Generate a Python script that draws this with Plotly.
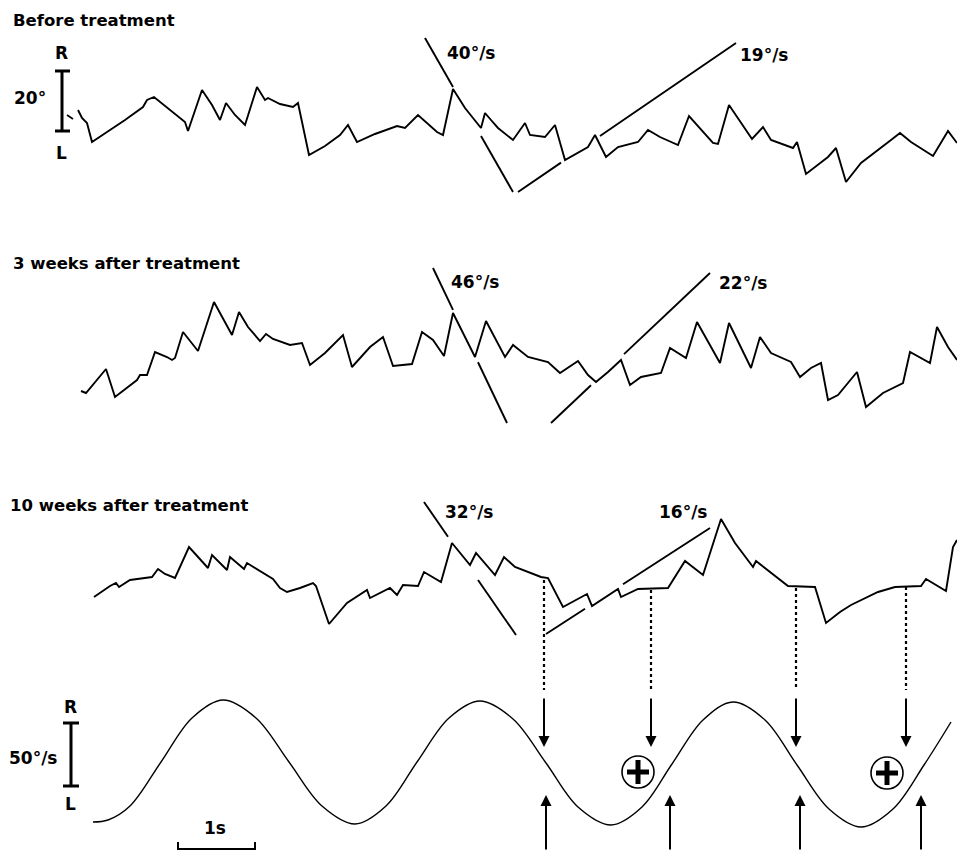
import plotly.graph_objects as go

# ---------------- data (x = time axis, y = trace position) ----------------
before_x = [78, 82, 87, 92, 110, 125, 143, 147, 154, 170, 185, 188, 202, 212, 220, 226, 235, 245, 257, 265, 268, 280,
            293, 298, 309, 325, 340, 348, 357, 375, 397, 405, 418, 437, 443, 453, 465, 481, 485, 491, 498, 513, 525,
            530, 545, 555, 565, 588, 595, 606, 618, 638, 648, 660, 678, 689, 713, 718, 729, 752, 763, 771, 793, 797,
            806, 828, 836, 846, 861, 891, 900, 911, 933, 948, 957]
before_y = [110, 118, 123, 142, 130, 120, 107, 100, 97, 110, 122, 131, 90, 105, 120, 103, 115, 125, 87, 100, 98, 104,
            107, 103, 155, 146, 135, 125, 142, 134, 126, 128, 115, 132, 135, 89, 108, 128, 113, 120, 128, 140, 123,
            135, 137, 125, 160, 147, 135, 157, 147, 142, 130, 137, 145, 116, 143, 144, 105, 139, 127, 140, 148, 142,
            174, 157, 148, 182, 163, 140, 133, 142, 156, 131, 143]

week3_x = [81, 86, 106, 115, 137, 140, 147, 155, 167, 172, 175, 183, 198, 214, 232, 239, 248, 260, 266, 273, 290, 302,
           310, 325, 343, 352, 370, 383, 392, 393, 412, 422, 433, 444, 453, 475, 486, 505, 513, 528, 548, 560, 578,
           588, 596, 608, 621, 630, 641, 661, 670, 686, 697, 720, 729, 751, 760, 771, 791, 800, 811, 821, 828, 838,
           857, 866, 883, 903, 910, 930, 937, 948, 957]
week3_y = [391, 393, 369, 397, 380, 375, 375, 352, 357, 360, 358, 332, 351, 302, 335, 312, 327, 341, 334, 339, 345, 343,
           365, 353, 335, 367, 347, 337, 363, 366, 364, 332, 340, 356, 313, 357, 321, 357, 345, 357, 362, 373, 361,
           375, 382, 372, 360, 385, 377, 373, 348, 358, 322, 363, 323, 368, 337, 353, 362, 377, 368, 363, 400, 395,
           372, 407, 393, 383, 352, 363, 327, 347, 360]

week10_x = [94, 110, 116, 119, 130, 152, 158, 165, 175, 180, 189, 208, 212, 227, 230, 244, 247, 273, 280, 287, 300, 313,
            316, 329, 347, 367, 370, 390, 397, 403, 418, 424, 441, 452, 470, 476, 495, 504, 515, 541, 548, 563, 585,
            587, 592, 618, 621, 638, 668, 685, 703, 721, 735, 753, 756, 788, 815, 826, 840, 851, 878, 895, 921, 926,
            946, 953, 957]
week10_y = [597, 586, 583, 587, 580, 577, 569, 574, 578, 567, 547, 568, 555, 570, 557, 569, 563, 579, 588, 592, 588, 583,
            586, 624, 603, 590, 598, 588, 595, 585, 586, 572, 582, 543, 565, 553, 575, 557, 567, 577, 578, 607, 595,
            594, 606, 589, 597, 589, 588, 561, 575, 519, 543, 567, 561, 586, 587, 623, 612, 605, 592, 587, 586, 579,
            591, 547, 540]

stim_x = [93, 108, 130, 161, 192, 223, 256, 289, 322, 355, 386, 417, 449, 480, 513, 546, 578, 611, 642, 672, 703, 733,
          765, 797, 829, 861, 893, 924, 951]
stim_y = [822, 820, 806, 762, 718, 700, 718, 762, 806, 824, 806, 762, 718, 701, 719, 763, 807, 825, 807, 764, 720, 702,
          720, 765, 809, 827, 809, 765, 722]

# slow-phase slope lines (start, end) and labels
slope_lines = [((425, 38), (513, 192)), ((518, 192), (736, 43)),
               ((433, 268), (507, 423)), ((551, 423), (710, 273)),
               ((424, 502), (516, 635)), ((546, 634), (710, 528))]
slope_labels = ["40°/s", "19°/s", "46°/s", "22°/s", "32°/s", "16°/s"]
slope_label_pos = [(471, 53), (764, 55), (475, 282), (743, 283), (469, 512), (683, 512)]

panel_titles = ["Before treatment", "3 weeks after treatment", "10 weeks after treatment"]
panel_title_pos = [(11, 20), (11, 263), (8, 505)]

# dotted markers from the trace down to the stimulus
dotted_x = [544, 651, 796, 906]
dotted_top = [580, 590, 588, 587]
dotted_bottom = 690
down_arrow_top = 697
down_arrow_tip = 747
up_arrow_x = [546, 670, 800, 921]
up_arrow_tail = 851
up_arrow_tip = 795
plus_centers = [(638, 772), (887, 773)]

BLACK = "#000000"
FONT = "DejaVu Sans"

fig = go.Figure()


def line(xs, ys, width=2.0, dash="solid", shape="linear"):
    fig.add_trace(go.Scatter(x=xs, y=ys, mode="lines", hoverinfo="skip",
                             line=dict(color=BLACK, width=width, dash=dash, shape=shape)))


def text(s, x, y, size=17, xanchor="center"):
    fig.add_annotation(x=x, y=y, text="<b>%s</b>" % s, showarrow=False, xanchor=xanchor, yanchor="middle",
                       font=dict(family=FONT, size=size, color=BLACK))


# traces
line([67, 73], [115, 119], width=1.6)
line(before_x, before_y, width=1.9)
line(week3_x, week3_y, width=1.9)
line(week10_x, week10_y, width=1.9)
line(stim_x, stim_y, width=1.4, shape="spline")

# slope lines (drawn with a gap where they cross the trace)
gaps = [(453, 481), (561, 600), (453, 478), (591, 624), (448, 478), (585, 623)]
for ((x0, y0), (x1, y1)), (g0, g1) in zip(slope_lines, gaps):
    def yat(xx):
        return y0 + (y1 - y0) * (xx - x0) / (x1 - x0)
    lo, hi = min(x0, x1), max(x0, x1)
    line([lo, g0], [yat(lo), yat(g0)], width=1.9)
    line([g1, hi], [yat(g1), yat(hi)], width=1.9)

for s, (x, y) in zip(slope_labels, slope_label_pos):
    text(s, x, y, size=17)
for s, (x, y) in zip(panel_titles, panel_title_pos):
    text(s, x, y, size=16.5, xanchor="left")

# position scale bar
line([62, 62], [71, 131], width=3)
line([55, 70], [71, 71], width=3)
line([55, 70], [131, 131], width=3)
text("R", 61, 53)
text("L", 61, 153)
text("20°", 30, 98)

# velocity scale bar
line([71, 71], [723, 786], width=3)
line([63, 79], [723, 723], width=3)
line([63, 79], [786, 786], width=3)
text("R", 70, 707)
text("L", 70, 804)
text("50°/s", 33, 758)

# time bar
line([178, 178, 255, 255], [842, 849, 849, 842], width=2)
text("1s", 215, 828)

# dotted lines and arrows
for x, top in zip(dotted_x, dotted_top):
    line([x, x], [top, dotted_bottom], width=2.2, dash="dot")
    fig.add_annotation(x=x, y=down_arrow_tip, ax=x, ay=down_arrow_top, axref="x", ayref="y", xref="x", yref="y",
                       text="", showarrow=True, arrowhead=2, arrowsize=1.1, arrowwidth=2, arrowcolor=BLACK)
for x in up_arrow_x:
    fig.add_annotation(x=x, y=up_arrow_tip, ax=x, ay=up_arrow_tail, axref="x", ayref="y", xref="x", yref="y",
                       text="", showarrow=True, arrowhead=2, arrowsize=1.1, arrowwidth=2, arrowcolor=BLACK)

# circled plus signs
for cx, cy in plus_centers:
    fig.add_shape(type="circle", xref="x", yref="y", x0=cx - 16, x1=cx + 16, y0=cy - 16, y1=cy + 16,
                  line=dict(color=BLACK, width=1.6), fillcolor="rgba(0,0,0,0)", layer="below")
    line([cx - 11, cx + 11], [cy, cy], width=5)
    line([cx, cx], [cy - 12, cy + 12], width=5)

fig.update_layout(width=957, height=851, margin=dict(l=0, r=0, t=0, b=0),
                  paper_bgcolor="white", plot_bgcolor="white", showlegend=False,
                  xaxis=dict(range=[0, 957], visible=False, fixedrange=True),
                  yaxis=dict(range=[851, 0], visible=False, fixedrange=True))

fig.write_html("out.html", config={"displayModeBar": False, "staticPlot": True},
               post_script="document.body.style.margin='0';document.body.style.overflow='hidden';")
